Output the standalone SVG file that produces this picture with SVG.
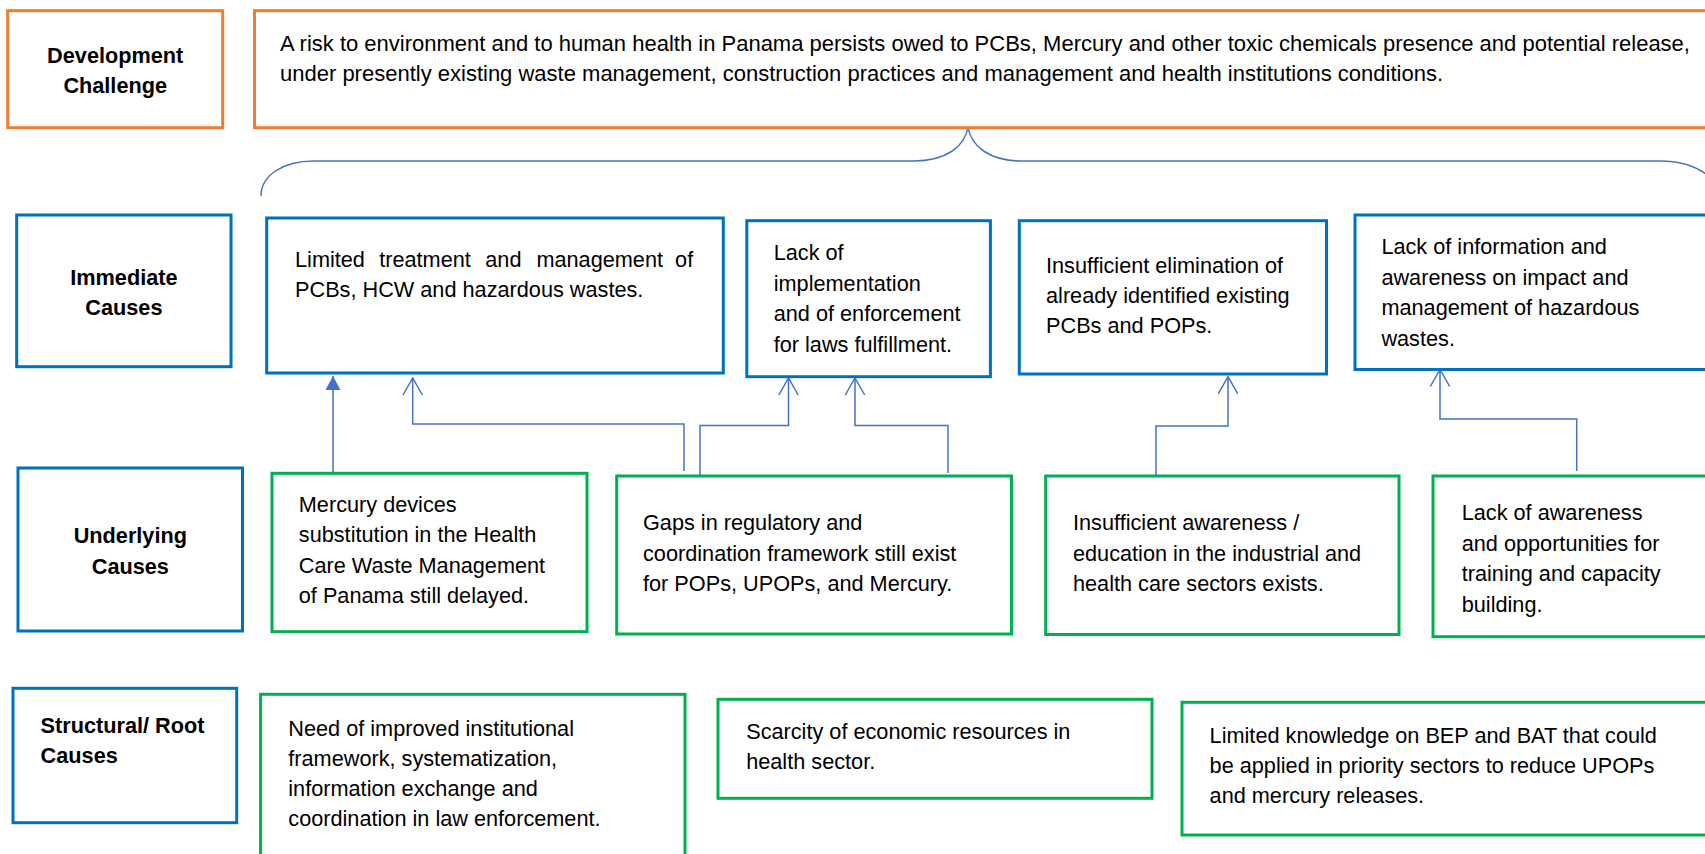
<svg xmlns="http://www.w3.org/2000/svg" width="1705" height="854" viewBox="0 0 1705 854">
<style>
.t{font-family:"Liberation Sans",Arial,sans-serif;font-size:21.7px;fill:#000}
.m{font-size:22px}
.b{font-weight:bold;text-anchor:middle}
.bl2{font-weight:bold}
.or{fill:#fff;stroke:#ED7D31;stroke-width:3}
.bl{fill:#fff;stroke:#0070C0;stroke-width:3}
.gr{fill:#fff;stroke:#00B050;stroke-width:3}
.c{fill:none;stroke:#4472C4;stroke-width:1.5}
</style>
<defs>
<marker id="open" markerUnits="userSpaceOnUse" viewBox="0 0 20 20" markerWidth="20" markerHeight="20" refX="17" refY="10" orient="auto" overflow="visible">
<path d="M0,0.3 L17,10 L0,19.7" fill="none" stroke="#4472C4" stroke-width="1.5"/>
</marker>
<marker id="filled" markerUnits="userSpaceOnUse" viewBox="0 0 20 20" markerWidth="20" markerHeight="20" refX="14" refY="10" orient="auto" overflow="visible">
<path d="M0,2.5 L14,10 L0,17.5 Z" fill="#4472C4"/>
</marker>
</defs>
<rect width="1705" height="854" fill="#fff"/>

<g id="connectors">
<path class="c" d="M261,196 C261,176 282,161 314,161 L914,161 C945,161 965,147 968,127 C971,147 991,161 1021,161 L1660,161 C1682,161 1702,168 1715,182"/>
<path class="c" d="M333,473 L333,376" marker-end="url(#filled)" stroke="#7F9FDA"/>
<path class="c" d="M684,471 L684,424 L412.7,424 L412.7,378" marker-end="url(#open)"/>
<path class="c" d="M700,475 L700,425.5 L788.5,425.5 L788.5,378" marker-end="url(#open)"/>
<path class="c" d="M948,473 L948,425.5 L855,425.5 L855,378" marker-end="url(#open)"/>
<path class="c" d="M1156,476 L1156,426 L1228,426 L1228,376.7" marker-end="url(#open)"/>
<path class="c" d="M1576.7,471 L1576.7,419 L1440,419 L1440,369.5" marker-end="url(#open)"/>
</g>

<g id="label-development">
<rect class="or" x="7.7" y="10.7" width="215" height="117"/>
<text class="t b" x="115.2" y="63.3">Development</text>
<text class="t b" x="115.2" y="93.3">Challenge</text>
</g>
<g id="development-challenge">
<rect class="or" x="254.5" y="10.7" width="1470" height="117"/>
<text class="t m" x="280" y="51">A risk to environment and to human health in Panama persists owed to PCBs, Mercury and other toxic chemicals presence and potential release,</text>
<text class="t m" x="280" y="80.5">under presently existing waste management, construction practices and management and health institutions conditions.</text>
</g>

<g id="label-immediate">
<rect class="bl" x="16.7" y="215" width="214.3" height="151.7"/>
<text class="t b" x="123.9" y="285">Immediate</text>
<text class="t b" x="123.9" y="315">Causes</text>
</g>
<g id="immediate-1">
<rect class="bl" x="266.7" y="218" width="456.6" height="155"/>
<text class="t" y="267"><tspan x="295">Limited</tspan><tspan x="379.2">treatment</tspan><tspan x="485.3">and</tspan><tspan x="536.4">management</tspan><tspan x="675.1">of</tspan></text>
<text class="t" x="295" y="297">PCBs, HCW and hazardous wastes.</text>
</g>
<g id="immediate-2">
<rect class="bl" x="746.8" y="220.7" width="243.6" height="156"/>
<text class="t" x="773.7" y="260">Lack of</text>
<text class="t" x="773.7" y="290.5">implementation</text>
<text class="t" x="773.7" y="321">and of enforcement</text>
<text class="t" x="773.7" y="351.5">for laws fulfillment.</text>
</g>
<g id="immediate-3">
<rect class="bl" x="1019.3" y="220.7" width="307.2" height="153.3"/>
<text class="t" x="1046" y="272.7">Insufficient elimination of</text>
<text class="t" x="1046" y="303">already identified existing</text>
<text class="t" x="1046" y="333.3">PCBs and POPs.</text>
</g>
<g id="immediate-4">
<rect class="bl" x="1355" y="215" width="370" height="154.5"/>
<text class="t" x="1381.4" y="254">Lack of information and</text>
<text class="t" x="1381.4" y="284.5">awareness on impact and</text>
<text class="t" x="1381.4" y="315">management of hazardous</text>
<text class="t" x="1381.4" y="345.5">wastes.</text>
</g>

<g id="label-underlying">
<rect class="bl" x="18" y="468" width="224.5" height="163"/>
<text class="t b" x="130.3" y="543.3">Underlying</text>
<text class="t b" x="130.3" y="574">Causes</text>
</g>
<g id="underlying-1">
<rect class="gr" x="272" y="473.3" width="315" height="158.4"/>
<text class="t" x="298.8" y="511.7">Mercury devices</text>
<text class="t" x="298.8" y="542.2">substitution in the Health</text>
<text class="t" x="298.8" y="572.7">Care Waste Management</text>
<text class="t" x="298.8" y="603.2">of Panama still delayed.</text>
</g>
<g id="underlying-2">
<rect class="gr" x="616.7" y="476" width="394.8" height="158"/>
<text class="t" x="643" y="530">Gaps in regulatory and</text>
<text class="t" x="643" y="560.7">coordination framework still exist</text>
<text class="t" x="643" y="591.4">for POPs, UPOPs, and Mercury.</text>
</g>
<g id="underlying-3">
<rect class="gr" x="1045.7" y="476" width="353.3" height="158.5"/>
<text class="t" x="1073" y="530">Insufficient awareness /</text>
<text class="t" x="1073" y="560.7">education in the industrial and</text>
<text class="t" x="1073" y="591.4">health care sectors exists.</text>
</g>
<g id="underlying-4">
<rect class="gr" x="1433" y="476" width="290" height="160.7"/>
<text class="t" x="1461.7" y="520">Lack of awareness</text>
<text class="t" x="1461.7" y="550.5">and opportunities for</text>
<text class="t" x="1461.7" y="581">training and capacity</text>
<text class="t" x="1461.7" y="611.5">building.</text>
</g>

<g id="label-structural">
<rect class="bl" x="13" y="688.3" width="223.7" height="134.4"/>
<text class="t bl2" x="40.6" y="732.7">Structural/ Root</text>
<text class="t bl2" x="40.6" y="762.7">Causes</text>
</g>
<g id="structural-1">
<rect class="gr" x="260.6" y="694.3" width="424.4" height="180"/>
<text class="t" x="288.3" y="735.5">Need of improved institutional</text>
<text class="t" x="288.3" y="765.8">framework, systematization,</text>
<text class="t" x="288.3" y="796.1">information exchange and</text>
<text class="t" x="288.3" y="826.4">coordination in law enforcement.</text>
</g>
<g id="structural-2">
<rect class="gr" x="718" y="699.3" width="434" height="99"/>
<text class="t" x="746.2" y="739.3">Scarcity of economic resources in</text>
<text class="t" x="746.2" y="769.3">health sector.</text>
</g>
<g id="structural-3">
<rect class="gr" x="1182" y="702.3" width="540" height="132.7"/>
<text class="t" x="1209.6" y="742.7">Limited knowledge on BEP and BAT that could</text>
<text class="t" x="1209.6" y="772.7">be applied in priority sectors to reduce UPOPs</text>
<text class="t" x="1209.6" y="802.7">and mercury releases.</text>
</g>
</svg>
